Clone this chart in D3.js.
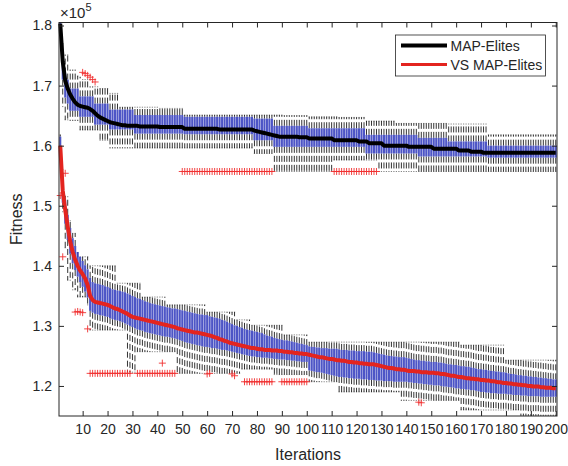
<!DOCTYPE html>
<html><head><meta charset="utf-8">
<script src="https://cdn.jsdelivr.net/npm/d3@7"></script>
<style>
body{margin:0;background:#fff}
svg{display:block}
text{font-family:"Liberation Sans",Arial,Helvetica,sans-serif;fill:#262626}
</style>
</head><body>
<svg id="chart" width="568" height="466"></svg>
<script>
// ---------- DATA (fitness values in units of 1e3; axis shows x10^5) ----------
const xTicks = [10,20,30,40,50,60,70,80,90,100,110,120,130,140,150,160,170,180,190,200];
const yTicks = [120,130,140,150,160,170,180];
const yTickLabels = ["1.2","1.3","1.4","1.5","1.6","1.7","1.8"];
const seriesNames = ["MAP-Elites","VS MAP-Elites"];

// MAP-Elites
const meanA = [
180.3,174.0,170.8,169.5,168.5,167.8,167.2,166.8,166.6,166.5,
166.4,166.3,166.1,165.8,165.4,165.0,164.7,164.5,164.3,164.1,
163.9,163.8,163.7,163.6,163.5,163.4,163.4,163.3,163.3,163.3,
163.3,163.3,163.2,163.2,163.2,163.2,163.2,163.2,163.2,163.2,
163.1,163.1,163.1,163.1,163.1,163.1,163.1,163.1,163.1,163.1,
162.8,162.8,162.8,162.8,162.8,162.8,162.8,162.8,162.8,162.8,
162.8,162.8,162.8,162.8,162.7,162.7,162.7,162.7,162.7,162.7,
162.7,162.7,162.7,162.7,162.7,162.7,162.7,162.7,162.5,162.4,
162.3,162.2,162.1,162.0,161.9,161.8,161.7,161.6,161.5,161.5,
161.5,161.5,161.5,161.5,161.5,161.5,161.4,161.4,161.4,161.4,
161.2,161.2,161.2,161.2,161.2,161.2,161.2,161.2,161.2,161.2,
160.9,160.9,160.9,160.9,160.9,160.9,160.9,160.9,160.9,160.9,
160.7,160.7,160.7,160.7,160.4,160.4,160.4,160.4,160.4,160.4,
160.0,160.0,160.0,160.0,160.0,160.0,160.0,160.0,160.0,160.0,
159.8,159.8,159.8,159.8,159.8,159.8,159.8,159.8,159.8,159.8,
159.5,159.5,159.5,159.5,159.5,159.5,159.5,159.5,159.5,159.5,
159.2,159.2,159.2,159.2,159.2,159.0,159.0,159.0,159.0,159.0,
158.8,158.8,158.8,158.8,158.8,158.8,158.8,158.8,158.8,158.8,
158.8,158.8,158.8,158.8,158.8,158.8,158.8,158.8,158.8,158.8,
158.8,158.8,158.8,158.8,158.8,158.8,158.8,158.8,158.8,158.8];
const q3A = [
180.5,176.0,172.0,171.0,169.5,169.5,169.5,169.5,168.2,168.2,
168.2,168.2,168.2,168.2,167.0,167.0,167.0,167.0,167.0,167.0,
166.0,166.0,166.0,166.0,166.0,166.0,166.0,166.0,166.0,166.0,
165.1,165.1,165.1,165.1,165.1,165.1,165.1,165.1,165.1,165.1,
165.1,165.1,165.1,165.1,165.1,165.1,165.1,165.1,165.1,165.1,
164.8,164.8,164.8,164.8,164.8,164.8,164.8,164.8,164.8,164.8,
164.8,164.8,164.8,164.8,164.8,164.8,164.8,164.8,164.8,164.8,
164.8,164.8,164.8,164.8,164.8,164.8,164.8,164.8,164.5,164.5,
164.5,164.5,164.5,164.5,164.5,164.5,163.3,163.3,163.3,163.3,
163.3,163.3,163.3,163.3,163.3,163.3,163.3,163.3,163.3,163.3,
162.9,162.9,162.9,162.9,162.9,162.9,162.9,162.9,162.9,162.9,
162.9,162.9,162.9,162.9,162.9,162.9,162.9,162.9,162.9,162.9,
162.9,162.9,162.9,161.8,161.8,161.8,161.8,161.8,161.8,161.8,
161.8,161.8,161.8,161.8,161.8,161.8,161.8,161.8,161.8,161.8,
161.8,161.8,161.8,161.8,161.3,161.3,161.3,161.3,161.3,161.3,
161.3,161.3,161.3,161.3,161.3,161.3,160.7,160.7,160.7,160.7,
160.7,160.7,160.7,160.7,160.7,160.7,160.7,160.7,160.7,160.7,
160.7,160.7,160.0,160.0,160.0,160.0,160.0,160.0,160.0,160.0,
160.0,160.0,160.0,160.0,160.0,160.0,160.0,160.0,160.0,160.0,
160.0,160.0,160.0,160.0,160.0,160.0,160.0,160.0,160.0,160.0];
const q1A = [
179.8,171.0,168.0,167.0,165.8,165.8,165.8,165.8,164.8,164.8,
164.8,164.8,164.8,164.8,163.5,163.5,163.5,163.5,163.5,163.5,
162.7,162.7,162.7,162.7,162.7,162.7,162.7,162.7,162.7,162.7,
162.0,162.0,162.0,162.0,162.0,162.0,162.0,162.0,162.0,162.0,
162.0,162.0,162.0,162.0,162.0,162.0,162.0,162.0,162.0,162.0,
161.9,161.9,161.9,161.9,161.9,161.9,161.9,161.9,161.9,161.9,
161.9,161.9,161.9,161.9,161.9,161.9,161.9,161.9,161.9,161.9,
161.9,161.9,161.9,161.9,161.9,161.9,161.9,161.9,160.9,160.9,
160.9,160.9,160.9,160.9,160.9,160.9,159.8,159.8,159.8,159.8,
159.8,159.8,159.8,159.8,159.8,159.8,159.8,159.8,159.8,159.8,
159.8,159.8,159.8,159.8,159.8,159.8,159.8,159.8,159.8,159.8,
159.8,159.8,159.8,159.8,159.8,159.8,159.8,159.8,159.8,159.8,
159.8,159.8,159.8,158.7,158.7,158.7,158.7,158.7,158.7,158.7,
158.7,158.7,158.7,158.7,158.7,158.7,158.7,158.7,158.7,158.7,
158.7,158.7,158.7,158.7,158.2,158.2,158.2,158.2,158.2,158.2,
158.2,158.2,158.2,158.2,158.2,158.2,158.2,158.2,158.2,158.2,
158.2,158.2,158.2,158.2,158.2,158.2,158.2,158.2,158.2,158.2,
158.2,158.2,158.0,158.0,158.0,158.0,158.0,158.0,158.0,158.0,
158.0,158.0,158.0,158.0,158.0,158.0,158.0,158.0,158.0,158.0,
158.0,158.0,158.0,158.0,158.0,158.0,158.0,158.0,158.0,158.0];
const hiA = [
180.5,177.0,175.1,175.1,172.6,172.6,172.6,171.6,171.4,171.0,
171.0,171.0,169.8,169.8,169.8,169.8,169.5,169.5,169.5,169.5,
168.7,168.7,168.7,168.7,166.4,166.4,166.4,166.4,166.4,166.4,
166.4,166.4,166.4,166.4,166.4,166.4,166.4,166.4,166.4,166.4,
166.2,166.2,166.2,166.2,166.2,166.2,166.2,166.2,166.2,166.2,
165.1,165.1,165.1,165.1,165.1,165.1,165.1,165.1,165.1,165.1,
165.1,165.1,165.1,165.1,165.1,165.1,165.1,165.1,165.1,165.1,
165.1,165.1,165.1,165.1,165.1,165.1,165.1,165.1,165.1,165.1,
165.1,165.1,165.1,165.1,165.1,165.1,165.1,165.1,165.1,165.1,
165.0,165.0,165.0,165.0,165.0,165.0,165.0,165.0,165.0,165.0,
164.8,164.8,164.8,164.8,164.8,164.8,164.8,164.8,164.8,164.8,
164.8,164.8,164.7,164.7,164.7,164.7,164.7,164.7,164.7,164.7,
164.7,164.7,164.7,164.1,164.1,164.1,164.1,164.1,164.1,164.1,
164.1,164.1,164.1,164.1,164.1,163.7,163.7,163.7,163.7,163.7,
163.7,163.7,163.7,163.7,163.7,163.7,163.7,163.7,163.7,163.7,
163.7,163.7,163.7,163.7,163.7,163.7,163.6,163.6,163.6,163.6,
163.6,163.6,163.6,163.6,163.6,163.6,163.6,163.6,163.6,163.6,
163.6,163.6,161.8,161.8,161.8,161.8,161.8,161.8,161.8,161.8,
161.8,161.8,161.8,161.8,161.8,161.8,161.8,161.8,161.8,161.8,
161.8,161.8,161.8,161.8,161.8,161.8,161.8,161.8,161.8,161.8];
const loA = [
179.5,166.5,164.3,164.3,164.2,164.2,164.2,164.2,162.6,162.6,
162.6,162.6,162.6,162.6,162.6,162.6,160.9,160.9,160.9,160.9,
159.6,159.6,159.6,159.6,159.6,159.6,159.6,159.6,159.6,159.6,
159.6,159.6,159.6,159.6,159.6,159.6,159.6,159.6,159.6,159.6,
159.6,159.6,159.6,159.6,159.6,159.6,159.6,159.6,159.6,159.6,
159.6,159.6,159.6,159.6,159.6,159.6,159.6,159.6,159.6,159.6,
159.6,159.6,159.6,159.6,159.6,159.6,159.6,159.6,159.6,159.6,
159.6,159.6,159.6,159.6,159.6,159.6,159.6,159.6,158.7,158.7,
158.7,158.7,158.7,158.7,158.7,158.7,155.7,155.7,155.7,155.7,
155.7,155.7,155.7,155.7,155.7,155.7,155.7,155.7,155.7,155.7,
155.7,155.7,155.7,155.7,155.7,155.7,155.7,155.7,155.7,155.7,
157.6,157.6,157.6,157.6,157.6,157.6,157.6,157.6,157.6,157.6,
157.6,157.6,157.6,157.6,157.6,157.6,157.6,157.6,155.7,155.7,
155.7,155.7,155.7,155.7,155.7,155.7,155.7,155.7,155.7,155.7,
155.7,155.7,155.7,155.7,155.7,155.7,155.7,155.7,155.7,155.7,
155.7,155.7,155.7,155.7,155.7,155.7,155.7,155.7,155.7,155.7,
155.7,155.7,155.7,155.7,155.7,155.7,155.7,155.7,155.7,155.7,
155.7,155.7,155.7,155.7,155.7,155.7,155.7,155.7,155.7,155.7,
155.7,155.7,155.7,155.7,155.7,155.7,155.7,155.7,155.7,155.7,
155.7,155.7,155.7,155.7,155.7,155.7,155.7,155.7,155.7,155.7];
const outIterA = [10,11,12,13,14,15,
50,51,52,53,54,55,56,57,58,59,60,61,62,63,64,65,66,67,68,69,70,71,72,73,74,75,76,77,78,79,80,81,82,83,84,85,86,
111,112,113,114,115,116,117,118,119,120,121,122,123,124,125,126,127,128];
const outValA = [172.2,172.0,171.7,171.4,171.0,170.6,
155.7,155.7,155.7,155.7,155.7,155.7,155.7,155.7,155.7,155.7,155.7,155.7,155.7,155.7,155.7,155.7,155.7,155.7,155.7,155.7,155.7,155.7,155.7,155.7,155.7,155.7,155.7,155.7,155.7,155.7,155.7,155.7,155.7,155.7,155.7,155.7,155.7,
155.7,155.7,155.7,155.7,155.7,155.7,155.7,155.7,155.7,155.7,155.7,155.7,155.7,155.7,155.7,155.7,155.7,155.7];

// VS MAP-Elites
const meanB = [
160.0,152.5,149.3,146.5,144.0,142.3,141.0,140.0,139.2,138.6,
137.9,136.8,135.0,134.3,134.0,133.9,133.8,133.7,133.6,133.5,
133.3,133.1,132.9,132.8,132.6,132.4,132.2,132.0,131.7,131.5,
131.4,131.3,131.2,131.1,131.0,130.9,130.8,130.7,130.6,130.5,
130.4,130.3,130.2,130.1,130.0,129.9,129.8,129.6,129.5,129.4,
129.3,129.2,129.1,129.0,128.9,128.9,128.8,128.7,128.6,128.5,
128.4,128.3,128.1,128.0,127.8,127.7,127.5,127.4,127.2,127.1,
127.0,126.9,126.8,126.7,126.6,126.5,126.4,126.3,126.3,126.2,
126.1,126.1,126.0,126.0,126.0,125.9,125.9,125.9,125.8,125.8,
125.7,125.7,125.6,125.6,125.5,125.5,125.4,125.4,125.3,125.3,
125.2,125.1,125.0,124.9,124.8,124.8,124.7,124.6,124.5,124.5,
124.4,124.3,124.3,124.2,124.2,124.1,124.0,124.0,123.9,123.9,
123.8,123.8,123.7,123.7,123.6,123.6,123.6,123.5,123.4,123.3,
123.2,123.1,123.0,123.0,122.9,122.8,122.8,122.7,122.7,122.6,
122.5,122.5,122.5,122.4,122.4,122.3,122.3,122.3,122.2,122.2,
122.2,122.1,122.1,122.0,122.0,121.9,121.8,121.7,121.7,121.6,
121.5,121.5,121.4,121.3,121.3,121.2,121.2,121.1,121.1,121.0,
121.0,120.9,120.9,120.8,120.8,120.7,120.6,120.6,120.5,120.5,
120.4,120.4,120.3,120.3,120.2,120.2,120.1,120.1,120.0,120.0,
119.9,119.9,119.9,119.8,119.8,119.7,119.7,119.7,119.6,119.6];
const q3B = [
161.5,154.5,151.0,148.5,146.3,144.6,143.3,142.3,141.5,140.8,
140.1,139.4,138.0,137.3,137.1,137.0,136.9,136.8,136.6,136.5,
136.3,136.1,136.0,135.9,135.8,135.7,135.6,135.4,135.2,135.0,
134.8,134.6,134.5,134.3,134.1,134.0,133.8,133.7,133.6,133.5,
133.4,133.3,133.2,133.1,133.0,132.9,132.9,132.8,132.7,132.6,
132.5,132.4,132.3,132.2,132.1,132.0,131.9,131.9,131.8,131.8,
131.6,131.5,131.4,131.3,131.2,131.0,130.9,130.7,130.5,130.3,
130.1,130.0,129.8,129.7,129.5,129.4,129.3,129.2,129.1,129.0,
128.9,128.8,128.6,128.4,128.3,128.2,128.0,127.9,127.8,127.7,
127.6,127.6,127.5,127.4,127.3,127.2,127.1,127.0,126.9,126.8,
126.6,126.5,126.5,126.4,126.4,126.3,126.3,126.3,126.2,126.2,
126.2,126.2,126.1,126.0,126.0,126.0,125.9,125.9,125.9,125.8,
125.8,125.8,125.8,125.7,125.7,125.7,125.6,125.5,125.4,125.3,
125.2,125.1,125.0,125.0,124.9,124.9,124.8,124.8,124.8,124.7,
124.6,124.5,124.4,124.3,124.3,124.2,124.2,124.1,124.1,124.0,
124.0,124.0,123.9,123.9,123.8,123.7,123.6,123.6,123.5,123.5,
123.4,123.3,123.3,123.2,123.2,123.1,123.0,122.9,122.8,122.8,
122.7,122.7,122.6,122.5,122.5,122.4,122.4,122.3,122.3,122.2,
122.1,122.0,122.0,121.9,121.8,121.8,121.7,121.7,121.6,121.6,
121.5,121.5,121.4,121.4,121.3,121.3,121.2,121.2,121.1,121.1];
const q1B = [
158.3,150.5,147.0,144.3,142.0,140.4,139.3,138.2,137.3,136.5,
135.7,134.7,132.5,132.2,132.0,131.9,131.8,131.7,131.6,131.5,
131.3,131.1,131.0,130.9,130.8,130.6,130.4,130.2,130.0,129.8,
129.6,129.4,129.3,129.2,129.0,128.9,128.8,128.7,128.6,128.5,
128.4,128.3,128.2,128.2,128.1,128.0,127.9,127.8,127.6,127.5,
127.3,127.2,127.1,127.0,126.9,126.8,126.7,126.6,126.5,126.5,
126.4,126.3,126.3,126.2,126.1,126.0,126.0,125.9,125.8,125.7,
125.6,125.5,125.4,125.3,125.2,125.1,125.0,124.9,124.9,124.8,
124.8,124.7,124.7,124.7,124.6,124.6,124.5,124.5,124.4,124.4,
124.4,124.3,124.3,124.2,124.2,124.1,124.1,124.0,124.0,124.0,
122.6,122.5,122.4,122.3,122.3,122.2,122.1,122.0,121.9,121.8,
121.7,121.6,121.5,121.5,121.4,121.4,121.3,121.3,121.2,121.2,
121.2,121.1,121.1,121.1,121.0,121.0,121.0,120.9,120.9,120.9,
120.8,120.8,120.8,120.8,120.7,120.7,120.7,120.7,120.7,120.7,
120.6,120.6,120.5,120.5,120.4,120.4,120.3,120.3,120.2,120.2,
120.1,120.1,120.1,120.0,119.9,119.9,119.8,119.8,119.7,119.6,
119.6,119.5,119.5,119.4,119.4,119.3,119.3,119.2,119.1,119.0,
119.0,118.9,118.9,118.8,118.8,118.8,118.7,118.7,118.7,118.7,
118.6,118.6,118.5,118.5,118.5,118.4,118.4,118.4,118.3,118.3,
118.3,118.3,118.3,118.2,118.2,118.2,118.2,118.2,118.2,118.2];
const hiB = [
161.8,156.0,151.6,151.5,147.5,145.4,145.4,141.5,141.5,141.5,
141.5,141.5,140.0,140.0,140.0,140.0,140.0,140.0,140.0,140.0,
140.0,140.0,140.0,137.1,137.1,137.1,137.1,137.1,137.1,137.1,
137.1,137.1,137.1,134.8,134.8,134.8,134.8,134.8,134.8,134.8,
134.8,134.8,134.8,133.5,133.5,133.5,133.5,133.5,133.5,133.5,
133.5,133.5,133.5,133.5,133.5,133.5,133.5,133.5,133.5,132.3,
132.3,132.3,132.3,132.3,132.3,132.3,132.3,132.3,132.3,132.3,
132.3,131.0,131.0,131.0,131.0,131.0,131.0,130.1,130.1,130.1,
130.1,130.1,130.1,130.1,130.1,130.1,130.1,130.1,130.1,130.1,
128.5,128.5,128.5,128.5,128.5,128.5,128.5,128.5,128.5,128.5,
127.3,127.3,127.3,127.3,127.3,127.3,127.3,127.3,127.3,127.3,
127.3,127.3,127.3,127.3,127.3,127.3,127.3,127.3,127.3,127.3,
127.3,127.3,127.3,127.3,127.3,127.3,127.3,127.3,127.3,127.3,
127.3,127.3,127.3,127.3,127.3,127.3,127.3,127.3,127.3,127.3,
127.3,127.3,127.3,127.3,127.3,127.3,127.3,127.3,127.3,127.3,
127.3,127.3,127.3,127.3,127.3,127.3,127.3,127.3,127.3,127.3,
127.3,126.8,126.8,126.8,126.8,126.8,126.8,126.8,126.8,126.8,
126.8,126.8,126.8,126.8,126.8,126.8,126.8,126.8,126.8,124.3,
124.3,124.3,124.3,124.3,124.3,124.3,124.3,124.3,124.3,124.3,
124.3,124.3,124.3,124.3,124.3,124.3,124.3,124.3,124.3,124.3];
const loB = [
158.0,149.0,143.0,137.6,137.6,136.0,136.0,134.8,134.8,134.8,
134.8,133.5,129.3,129.3,129.3,129.3,129.3,129.3,129.3,129.3,
129.3,129.3,129.3,129.3,129.3,129.3,129.3,122.3,122.3,122.3,
122.3,125.7,125.7,125.7,125.7,125.7,125.7,125.7,125.7,125.7,
125.7,125.7,125.7,125.7,125.7,125.7,125.7,122.1,122.1,122.1,
122.1,122.1,122.1,122.1,122.1,122.1,122.1,122.1,122.1,122.1,
122.1,122.1,122.1,122.1,122.1,122.1,122.1,122.1,122.1,122.1,
122.1,122.1,122.1,122.8,122.8,122.8,122.8,122.8,122.8,122.8,
122.8,122.8,122.8,122.8,122.8,122.8,121.9,121.9,121.9,121.9,
121.9,121.9,121.9,121.9,121.9,121.9,121.9,121.9,121.9,121.9,
120.7,120.7,120.7,120.7,120.7,120.7,120.7,120.7,120.7,120.7,
120.7,120.7,119.0,119.0,119.0,119.0,119.0,119.0,119.0,119.0,
119.0,119.0,119.0,119.0,119.0,119.0,119.0,119.0,119.0,119.0,
119.0,119.0,119.0,119.0,119.0,119.0,119.0,117.6,117.6,117.6,
117.6,117.6,117.6,117.6,117.6,117.6,117.6,117.6,117.6,117.6,
117.6,117.6,117.6,117.6,117.6,117.6,117.6,117.6,117.6,117.6,
117.6,116.0,116.0,116.0,116.0,116.0,116.0,116.0,116.0,116.0,
116.0,116.0,116.0,116.0,116.0,116.0,116.0,116.0,116.0,116.0,
116.0,116.0,116.0,116.0,116.0,115.1,115.1,115.1,115.1,115.1,
115.1,115.1,115.1,115.1,115.1,115.1,115.1,115.1,115.1,115.1];
const outIterB = [1,2,3,7,8,9,10,12,
13,14,15,16,17,18,19,20,21,22,23,24,25,26,27,28,29,
32,33,34,35,36,37,38,39,40,41,42,43,44,45,46,47,
42,60,61,70,71,
75,76,77,78,79,80,81,82,83,84,85,86,
90,91,92,93,94,95,96,97,98,99,100,
145,146];
const outValB = [151.7,141.5,155.4,132.3,132.4,132.3,132.2,129.5,
122.1,122.1,122.1,122.1,122.1,122.1,122.1,122.1,122.1,122.1,122.1,122.1,122.1,122.1,122.1,122.1,122.1,
122.1,122.1,122.1,122.1,122.1,122.1,122.1,122.1,122.1,122.1,122.1,122.1,122.1,122.1,122.1,122.1,
123.8,122.0,122.1,122.0,121.7,
120.7,120.7,120.7,120.7,120.7,120.7,120.7,120.7,120.7,120.7,120.7,120.7,
120.7,120.7,120.7,120.7,120.7,120.7,120.7,120.7,120.7,120.7,120.7,
117.3,117.2];

// ---------- CHART ----------
const svg = d3.select("#chart");
const L = 59, R = 557, T = 22.5, B = 416;
const x = d3.scaleLinear().domain([0.5, 200.5]).range([L, R]);
const y = d3.scaleLinear().domain([115, 180.5]).range([B, T]);

const series = [
  {name: seriesNames[0], mean: meanA, q1: q1A, q3: q3A, lo: loA, hi: hiA, oi: outIterA, ov: outValA, color: "#000000", lw: 4},
  {name: seriesNames[1], mean: meanB, q1: q1B, q3: q3B, lo: loB, hi: hiB, oi: outIterB, ov: outValB, color: "#e3241f", lw: 4}
];

const plot = svg.append("g");
const unit = x(2) - x(1);
const boxHalf = unit * 0.42;
const capHalf = unit * 0.25;

series.forEach(s => {
  const rows = s.q1.map((v, i) => ({it: i + 1, q1: v, q3: s.q3[i], lo: s.lo[i], hi: s.hi[i]}));
  const g = plot.append("g");
  // whiskers
  g.selectAll("line.wu").data(rows).join("line")
    .attr("x1", d => x(d.it)).attr("x2", d => x(d.it))
    .attr("y1", d => y(d.q3)).attr("y2", d => y(d.hi))
    .attr("stroke", "#000").attr("stroke-opacity", 0.8).attr("stroke-width", 1)
    .attr("stroke-dasharray", "6,3");
  g.selectAll("line.wl").data(rows).join("line")
    .attr("x1", d => x(d.it)).attr("x2", d => x(d.it))
    .attr("y1", d => y(d.q1)).attr("y2", d => y(d.lo))
    .attr("stroke", "#000").attr("stroke-opacity", 0.8).attr("stroke-width", 1)
    .attr("stroke-dasharray", "6,3");
  // caps
  ["hi","lo"].forEach(k => {
    g.selectAll("line.c" + k).data(rows).join("line")
      .attr("x1", d => x(d.it) - capHalf).attr("x2", d => x(d.it) + capHalf)
      .attr("y1", d => y(d[k])).attr("y2", d => y(d[k]))
      .attr("stroke", "#000").attr("stroke-opacity", 0.6).attr("stroke-width", 0.8);
  });
  // boxes
  g.selectAll("rect").data(rows).join("rect")
    .attr("x", d => x(d.it) - boxHalf).attr("width", boxHalf * 2)
    .attr("y", d => y(d.q3)).attr("height", d => Math.max(0.5, y(d.q1) - y(d.q3)))
    .attr("fill", "#3a42c0").attr("fill-opacity", 0.9);
  // outliers
  g.selectAll("path.o").data(s.oi.map((it, i) => ({it, v: s.ov[i]}))).join("path")
    .attr("transform", d => `translate(${x(d.it)},${y(d.v)})`)
    .attr("d", "M-3.5,0H3.5M0,-3.5V3.5")
    .attr("stroke", "#f03030").attr("stroke-width", 0.9).attr("fill", "none");
});

// mean curves
series.forEach(s => {
  plot.append("path").datum(s.mean)
    .attr("d", d3.line().x((d, i) => x(i + 1)).y(d => y(d)))
    .attr("fill", "none").attr("stroke", s.color).attr("stroke-width", s.lw)
    .attr("stroke-linejoin", "round");
});

// axes
const axisColor = "#262626";
const fs = 14;
svg.append("g").attr("transform", `translate(0,${B})`)
  .call(d3.axisBottom(x).tickValues(xTicks).tickSizeInner(-5).tickSizeOuter(0).tickPadding(8));
svg.append("g").attr("transform", `translate(${L},0)`)
  .call(d3.axisLeft(y).tickValues(yTicks).tickFormat((d, i) => yTickLabels[i]).tickSizeInner(-5).tickSizeOuter(0).tickPadding(7));
svg.append("g").attr("transform", `translate(0,${T})`)
  .call(d3.axisTop(x).tickValues(xTicks).tickFormat("").tickSizeInner(-5).tickSizeOuter(0));
svg.append("g").attr("transform", `translate(${R},0)`)
  .call(d3.axisRight(y).tickValues(yTicks).tickFormat("").tickSizeInner(-5).tickSizeOuter(0));
svg.selectAll(".domain").remove();
svg.selectAll(".tick line").attr("stroke", axisColor);
svg.selectAll(".tick text").attr("font-size", fs).attr("fill", axisColor)
  .style("font-family", '"Liberation Sans",Arial,Helvetica,sans-serif');
svg.append("rect").attr("x", L).attr("y", T).attr("width", R - L).attr("height", B - T)
  .attr("fill", "none").attr("stroke", axisColor).attr("stroke-width", 1);

// exponent label
const ex = svg.append("text").attr("x", L + 1).attr("y", 18).attr("font-size", 15);
ex.append("tspan").text("\u00d710");
ex.append("tspan").attr("font-size", 11).attr("dy", -7).text("5");

// axis labels
svg.append("text").attr("x", (L + R) / 2).attr("y", 460).attr("text-anchor", "middle")
  .attr("font-size", 16).text("Iterations");
svg.append("text").attr("transform", `translate(22,${(T + B) / 2}) rotate(-90)`)
  .attr("text-anchor", "middle").attr("font-size", 16).text("Fitness");

// legend
const lg = svg.append("g");
lg.append("rect").attr("x", 395.5).attr("y", 35).attr("width", 150).attr("height", 41)
  .attr("fill", "#fff").attr("stroke", axisColor).attr("stroke-width", 0.8);
series.forEach((s, i) => {
  const yy = 45.5 + i * 19;
  lg.append("line").attr("x1", 401).attr("x2", 447).attr("y1", yy).attr("y2", yy)
    .attr("stroke", s.color).attr("stroke-width", i === 0 ? 4 : 3);
  lg.append("text").attr("x", 450.5).attr("y", yy + 5).attr("font-size", fs).text(s.name);
});
</script>
</body></html>
